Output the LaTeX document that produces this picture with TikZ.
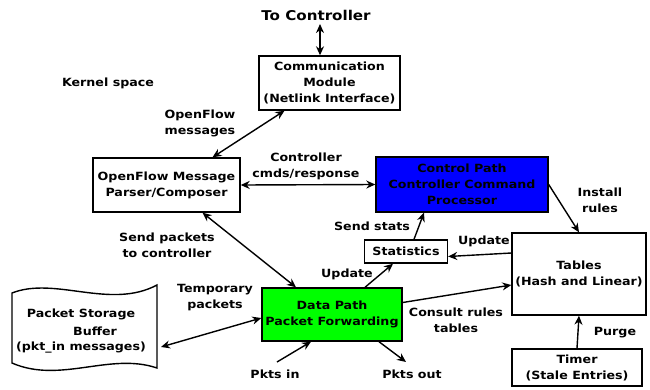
\documentclass[tikz,border=0pt]{standalone}
\usepackage{fontspec}
\setmainfont[FakeStretch=1.12]{DejaVu Sans}
\usetikzlibrary{arrows.meta}
\definecolor{cpblue}{RGB}{0,0,255}
\definecolor{dpgreen}{RGB}{0,255,0}
\tikzset{
  box/.style={draw, line width=1.4pt, align=center, inner sep=1pt,
    font=\fontsize{11.3}{16}\selectfont\bfseries},
  lbl/.style={align=center, inner sep=0pt, font=\fontsize{11.3}{16}\selectfont\bfseries},
  link/.style={line width=1.4pt, -{Stealth[length=9pt,width=8pt]}},
  dlink/.style={line width=1.4pt, {Stealth[length=9pt,width=8pt]}-{Stealth[length=9pt,width=8pt]}}
}
\begin{document}
\begin{tikzpicture}[x=1pt,y=-1pt]
\useasboundingbox (0,0) rectangle (650,389);

% modules
\node[box, minimum width=141pt, minimum height=54pt] (comm) at (329.5,83)
  {Communication\\Module\\(Netlink Interface)};
\node[box, minimum width=147pt, minimum height=54pt] (parser) at (166.5,185)
  {OpenFlow Message\\Parser/Composer};
\node[box, fill=cpblue, minimum width=172pt, minimum height=55pt] (ctrl) at (462,184.5)
  {Control Path\\Controller Command\\Processor};
\node[box, minimum width=83pt, minimum height=23pt] (stats) at (406,251.5) {Statistics};
\node[box, minimum width=134pt, minimum height=82pt] (tables) at (579,274)
  {Tables\\(Hash and Linear)};
\node[box, fill=dpgreen, minimum width=140pt, minimum height=53pt] (data) at (332,314.5)
  {Data Path\\Packet Forwarding};
\node[box, minimum width=130pt, minimum height=37pt] (timer) at (577,367.5)
  {Timer\\(Stale Entries)};

% packet storage buffer (wavy tape)
\draw[line width=1.4pt]
  (12,293) .. controls (55,276) and (110,310) .. (157,285)
  -- (157,368) .. controls (110,352) and (60,384) .. (12,363) -- cycle;
\node[lbl] (psb1) at (81,314) {Packet Storage};
\node[lbl] (psb2) at (95,331) {Buffer};
\node[lbl] (psb3) at (81,348) {(pkt\_in messages)};
\coordinate (store) at (161,347);

% free labels
\node[lbl, font=\fontsize{13.5}{16}\selectfont\bfseries] (toctl) at (316,15) {To Controller};
\node[lbl] (kernel) at (108,83) {Kernel space};
\node[lbl] (ofm) at (200,123) {OpenFlow\\messages};
\node[lbl] (cmds) at (306,166.5) {Controller\\cmds/response};
\node[lbl] (inst) at (600,200) {Install\\rules};
\node[lbl] (sendst) at (372,226) {Send stats};
\node[lbl] (upd1) at (484,241) {Update};
\node[lbl] (sendpk) at (167,245) {Send packets\\to controller};
\node[lbl] (upd2) at (347,274) {Update};
\node[lbl] (temp) at (215,297.5) {Temporary\\packets};
\node[lbl] (consult) at (456,320) {Consult rules\\tables};
\node[lbl] (purge) at (615,333) {Purge};
\node[lbl] (pin) at (275,374) {Pkts in};
\node[lbl] (pout) at (412,374) {Pkts out};

% end points of the open connectors
\coordinate (ctltop) at (320,24);
\coordinate (pinsrc) at (277,362);
\coordinate (poutdst) at (406,362);

% connectors
\draw[dlink] (ctltop) -- ([xshift=-9.5pt]comm.north);
\draw[dlink] ([xshift=-45pt]comm.south) -- ([xshift=46pt]parser.north);
\draw[dlink] (parser.east) -- (ctrl.west);
\draw[link] (ctrl.east) -- (tables.north);
\draw[link] ([xshift=8pt]stats.north) -- ([xshift=-38pt]ctrl.south);
\draw[link] ([yshift=21pt]tables.west) -- ([yshift=-5pt]stats.east);
\draw[link] ([xshift=33pt]data.north) -- ([xshift=-13pt]stats.south);
\draw[dlink] ([xshift=36pt]parser.south) -- ([xshift=-36pt]data.north);
\draw[dlink] (store) -- ([yshift=-3.5pt]data.west);
\draw[link] ([yshift=12pt]data.east) -- ([yshift=-11pt]tables.west);
\draw[link] (timer.north) -- (tables.south);
\draw[link] (pinsrc) -- ([xshift=-21pt]data.south);
\draw[link] ([xshift=47pt]data.south) -- (poutdst);
\end{tikzpicture}
\end{document}
